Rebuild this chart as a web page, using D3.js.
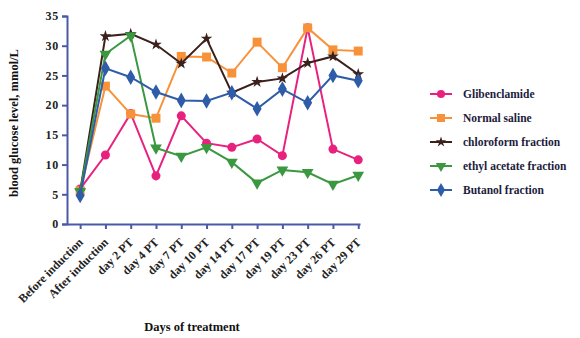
<!DOCTYPE html>
<html>
<head>
<meta charset="utf-8">
<script src="https://cdn.jsdelivr.net/npm/d3@7"></script>
<style>
  html, body { margin: 0; padding: 0; background: #fff; }
  svg text { font-family: "Liberation Serif", "DejaVu Serif", serif; font-weight: bold; }
</style>
</head>
<body>
<svg id="chart" width="580" height="338"></svg>
<script>
// Time points along the x axis
const categories = ["Before induction", "After induction", "day 2 PT", "day 4 PT", "day 7 PT",
  "day 10 PT", "day 14 PT", "day 17 PT", "day 19 PT", "day 23 PT", "day 26 PT", "day 29 PT"];

// Blood glucose (mmol/L) for each treatment group
const glibenclamide = [5.9, 11.6, 18.6, 8.1, 18.2, 13.6, 12.9, 14.3, 11.5, 33.0, 12.6, 10.8];
const normalSaline = [5.6, 23.2, 18.5, 17.8, 28.2, 28.1, 25.4, 30.6, 26.3, 33.0, 29.3, 29.1];
const chloroform = [5.5, 31.6, 32.0, 30.2, 27.0, 31.2, 22.1, 23.9, 24.5, 27.1, 28.2, 25.2];
const ethylAcetate = [5.5, 28.6, 31.7, 12.8, 11.4, 12.9, 10.4, 6.9, 9.1, 8.7, 6.7, 8.2];
const butanol = [4.8, 26.2, 24.7, 22.2, 20.8, 20.7, 22.1, 19.4, 22.7, 20.4, 25.0, 24.1];

const seriesNames = ["Glibenclamide", "Normal saline", "chloroform fraction", "ethyl acetate fraction", "Butanol fraction"];
const yTicks = [0, 5, 10, 15, 20, 25, 30, 35];

const series = [
  { name: seriesNames[0], values: glibenclamide, color: "#e8217f", symbol: d3.symbolCircle, size: 64, rot: 0 },
  { name: seriesNames[1], values: normalSaline, color: "#f7923a", symbol: d3.symbolSquare, size: 80, rot: 0 },
  { name: seriesNames[2], values: chloroform, color: "#3b201c", symbol: d3.symbolStar, size: 42, rot: 0 },
  { name: seriesNames[3], values: ethylAcetate, color: "#3a9840", symbol: d3.symbolTriangle, size: 60, rot: 180 },
  { name: seriesNames[4], values: butanol, color: "#2f5ca8", symbol: d3.symbolDiamond, size: 70, rot: 0 }
];

const svg = d3.select("#chart");
const axisColor = "#4a5aa8";

const x = d3.scaleLinear().domain([-0.52, 11.07]).range([67, 360]);
const y = d3.scaleLinear().domain([0, 35]).range([224, 16]);

// Y axis
const yAxis = svg.append("g")
  .attr("transform", "translate(67,0)")
  .call(d3.axisLeft(y).tickValues(yTicks).tickSize(5).tickPadding(3));
yAxis.select(".domain").attr("stroke", axisColor).attr("stroke-width", 2);
yAxis.selectAll(".tick line").attr("stroke", axisColor).attr("stroke-width", 2);
yAxis.selectAll(".tick text").attr("fill", "#222").attr("font-size", 12)
  .attr("letter-spacing", "0.8px")
  .style("font-family", "'Liberation Serif', serif").style("font-weight", "bold");

// X axis
const xAxis = svg.append("g")
  .attr("transform", "translate(0,224)")
  .call(d3.axisBottom(x).tickValues(d3.range(categories.length))
    .tickFormat(i => categories[i]).tickSize(5).tickSizeOuter(0));
xAxis.select(".domain").attr("stroke", axisColor).attr("stroke-width", 2);
xAxis.selectAll(".tick line").attr("stroke", axisColor).attr("stroke-width", 2);
xAxis.selectAll(".tick text")
  .attr("fill", "#222").attr("font-size", 12)
  .style("font-family", "'Liberation Serif', serif").style("font-weight", "bold")
  .attr("text-anchor", "end")
  .attr("x", 0).attr("y", 0).attr("dy", 0)
  .attr("transform", "translate(3,19) rotate(-45)");

// Axis titles
svg.append("text")
  .attr("transform", "translate(18,123) rotate(-90)")
  .attr("text-anchor", "middle")
  .attr("font-size", 12.5)
  .attr("fill", "#111")
  .text("blood glucose level, mmol/L");

svg.append("text")
  .attr("x", 192).attr("y", 331)
  .attr("text-anchor", "middle")
  .attr("font-size", 12.5)
  .attr("fill", "#111")
  .text("Days of treatment");

// Lines and markers
const line = d3.line().x((d, i) => x(i)).y(d => y(d));

series.forEach(s => {
  const g = svg.append("g");
  g.append("path")
    .datum(s.values)
    .attr("d", line)
    .attr("fill", "none")
    .attr("stroke", s.color)
    .attr("stroke-width", 2);
  g.selectAll("path.m")
    .data(s.values)
    .join("path")
    .attr("class", "m")
    .attr("d", d3.symbol().type(s.symbol).size(s.size))
    .attr("transform", (d, i) => `translate(${x(i)},${y(d)}) rotate(${s.rot})`)
    .attr("fill", s.color);
});

// Legend
const legend = svg.append("g");
series.forEach((s, k) => {
  const ly = 94 + k * 24;
  legend.append("line")
    .attr("x1", 430).attr("x2", 452).attr("y1", ly).attr("y2", ly)
    .attr("stroke", s.color).attr("stroke-width", 2);
  legend.append("path")
    .attr("d", d3.symbol().type(s.symbol).size(s.size * 0.8))
    .attr("transform", `translate(441,${ly}) rotate(${s.rot})`)
    .attr("fill", s.color);
  legend.append("text")
    .attr("x", 463).attr("y", ly)
    .attr("dy", "0.35em")
    .attr("font-size", 11.5)
    .attr("fill", "#1c1c3c")
    .text(s.name);
});
</script>
</body>
</html>
